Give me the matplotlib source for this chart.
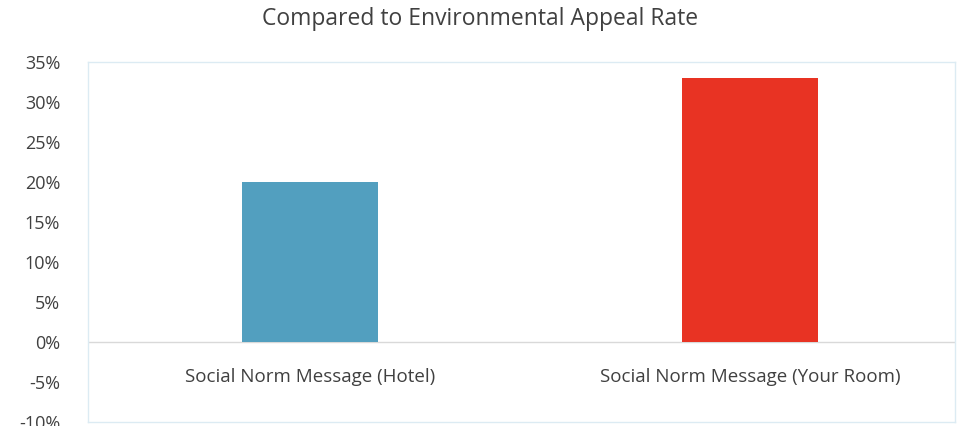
import matplotlib
matplotlib.use("Agg")
import matplotlib.pyplot as plt
from matplotlib.ticker import PercentFormatter

categories = ["Social Norm Message (Hotel)", "Social Norm Message (Your Room)"]
values = [20, 33]
colors = ["#529FBF", "#E83323"]
yticks = [-10, -5, 0, 5, 10, 15, 20, 25, 30, 35]

plt.rcParams['font.family'] = ['Open Sans', 'DejaVu Sans']
plt.rcParams['axes.unicode_minus'] = False
fig = plt.figure(figsize=(9.6, 4.26), dpi=100)
ax = fig.add_axes([88/960, 4/426, 867/960, 360/426])
x = list(range(len(categories)))
ax.bar(x, values, width=0.31, color=colors, zorder=3)
ax.set_xlim(-0.5045, 1.466)
ax.set_ylim(-10, 35)
ax.set_yticks(yticks)
ax.yaxis.set_major_formatter(PercentFormatter(decimals=0))
ax.tick_params(axis='y', length=0, labelsize=13, colors='#404040', pad=20)
ax.set_xticks([])
ax.axhline(0, color='#D9D9D9', lw=1, zorder=2)
for s in ax.spines.values():
    s.set_color('#DCEBF3')
    s.set_linewidth(1)
for xi, c in zip(x, categories):
    ax.text(xi, -4.4, c, ha='center', va='center', fontsize=13.5, color='#404040')
fig.text(0.5, 0.955, "Compared to Environmental Appeal Rate", ha='center', va='center',
         fontsize=16.5, color='#404040')
fig.savefig("out.png", dpi=100)
